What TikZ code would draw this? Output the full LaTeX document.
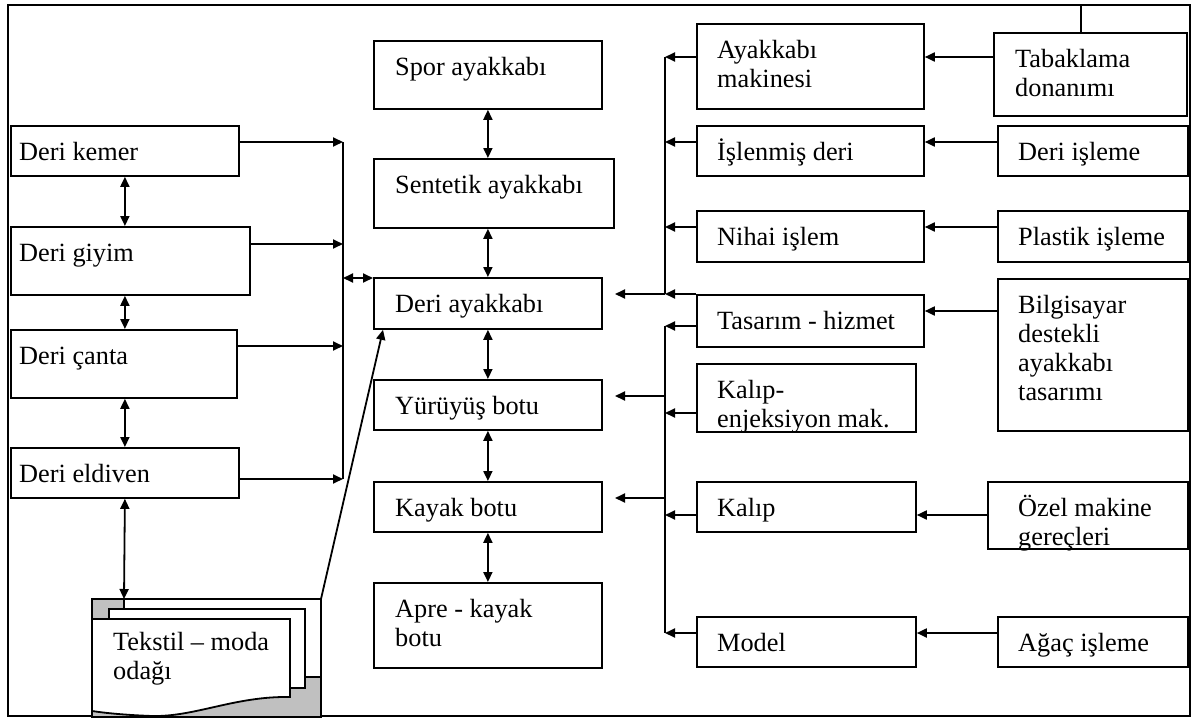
\documentclass[tikz,border=0pt]{standalone}
\usepackage{fontspec}
\setmainfont{Liberation Serif}
\usetikzlibrary{arrows.meta}
\definecolor{docgray}{HTML}{C0C0C0}
\newcommand\mybox[7]{%
  \node[bx, minimum width=#4pt, minimum height=#5pt, anchor=north west] (#1) at (#2,#3) {};
  \node[tx, anchor=base west] (#1t) at ([shift={(#6,35)}]#1.north west) {#7};}
\newcommand\twol[2]{\vtop{\baselineskip=29pt\hbox{#1}\hbox{#2}}}
\begin{document}
\begin{tikzpicture}[x=1pt,y=-1pt,
  bx/.style={draw, line width=1.8pt, inner sep=0pt, fill=white},
  tx/.style={inner sep=0pt, font=\fontsize{26.3}{29}\selectfont},
  ln/.style={line width=1.8pt},
  arr/.style={ln, -{Triangle[length=10pt,width=9pt]}},
  darr/.style={ln, {Triangle[length=10pt,width=9pt]}-{Triangle[length=10pt,width=9pt]}}]
\useasboundingbox (0,0) rectangle (1197,720);
\draw[ln] (8,5) rectangle (1190,716);
% left column
\mybox{kemer}{10}{125}{228}{50}{9}{Deri kemer}
\mybox{giyim}{10}{226}{239}{68}{9}{Deri giyim}
\mybox{canta}{10}{329}{226}{68}{9}{Deri çanta}
\mybox{eldiven}{10}{447}{228}{50}{9}{Deri eldiven}
% centre column
\mybox{spor}{373}{40}{228}{68}{22}{Spor ayakkabı}
\mybox{sentetik}{373}{158}{240}{69}{22}{Sentetik ayakkabı}
\mybox{deri}{373}{277}{228}{51}{22}{Deri ayakkabı}
\mybox{yuruyus}{373}{379}{228}{50}{22}{Yürüyüş botu}
\mybox{kayak}{373}{481}{228}{50}{22}{Kayak botu}
\mybox{apre}{373}{582}{228}{85}{22}{\twol{Apre - kayak}{botu}}
% middle-right column
\mybox{makine}{696}{23}{227}{85}{21}{\twol{Ayakkabı}{makinesi}}
\mybox{islenmis}{696}{125}{227}{50}{21}{İşlenmiş deri}
\mybox{nihai}{696}{210}{227}{51}{21}{Nihai işlem}
\mybox{tasarim}{696}{294}{227}{52}{21}{Tasarım - hizmet}
\mybox{enj}{696}{363}{219}{68}{21}{\twol{Kalıp-}{enjeksiyon mak.}}
\mybox{kalip}{696}{481}{219}{50}{21}{Kalıp}
\mybox{model}{696}{616}{219}{50}{21}{Model}
% far right column
\mybox{tabak}{993}{32}{193}{83}{22}{\twol{Tabaklama}{donanımı}}
\mybox{deriisl}{997}{125}{190}{50}{21}{Deri işleme}
\mybox{plastik}{997}{210}{190}{51}{21}{Plastik işleme}
\mybox{bilgi}{997}{278}{190}{152}{21}{\vtop{\baselineskip=29pt\hbox{Bilgisayar}\hbox{destekli}\hbox{ayakkabı}\hbox{tasarımı}}}
\mybox{ozel}{987}{481}{200}{67}{31}{\twol{Özel makine}{gereçleri}}
\mybox{agac}{997}{616}{190}{50}{21}{Ağaç işleme}
% multi-document shape
\filldraw[ln, fill=docgray] (92,599) rectangle (321,717);
\filldraw[ln, fill=white] (124,599) rectangle (321,677);
\filldraw[ln, fill=white] (109,609) rectangle (305,688);
\filldraw[ln, fill=white] (92,619) -- (290,619) -- (290,697)
  .. controls (235,696) and (195,717) .. (152,716)
  .. controls (125,715) and (105,713) .. (92,711) -- cycle;
\node[tx, anchor=base west] (doct) at (113,650) {\twol{Tekstil – moda}{odağı}};
\coordinate (docA) at (124,599);
\coordinate (docB) at (321,599);
% coordinates
\coordinate (L1) at (343,142);
\coordinate (L2) at (343,244);
\coordinate (L3) at (343,346);
\coordinate (L4) at (343,479);
\coordinate (L0) at (343,278);
\coordinate (ub1) at (665,57);
\coordinate (ub2) at (665,142);
\coordinate (ub3) at (665,227);
\coordinate (ub4) at (665,294);
\coordinate (lb1) at (665,326);
\coordinate (lb2) at (665,413);
\coordinate (lb3) at (665,515);
\coordinate (lb4) at (665,633);
\coordinate (ly) at (665,396);
\coordinate (lk) at (665,498);
\coordinate (da) at (615,294);
\coordinate (ya) at (615,396);
\coordinate (ka) at (615,498);
\coordinate (bg) at (0,311);
\coordinate (ft) at (1081,5);
% left connectors
\draw[ln] (L1) -- (L4);
\draw[arr] (L1 -| kemer.east) -- (L1);
\draw[arr] (L2 -| giyim.east) -- (L2);
\draw[arr] (L3 -| canta.east) -- (L3);
\draw[arr] (L4 -| eldiven.east) -- (L4);
\draw[darr] (L0) -- (L0 -| deri.west);
\draw[darr] (kemer.south) -- (kemer.south |- giyim.north);
\draw[darr] (kemer.south |- giyim.south) -- (kemer.south |- canta.north);
\draw[darr] (kemer.south |- canta.south) -- (kemer.south |- eldiven.north);
\draw[darr] (eldiven.south) -- (docA);
\draw[arr] (docB) -- ([xshift=10pt]deri.south west);
% centre connectors
\draw[darr] (spor.south) -- (spor.south |- sentetik.north);
\draw[darr] (spor.south |- sentetik.south) -- (spor.south |- deri.north);
\draw[darr] (spor.south |- deri.south) -- (spor.south |- yuruyus.north);
\draw[darr] (spor.south |- yuruyus.south) -- (spor.south |- kayak.north);
\draw[darr] (spor.south |- kayak.south) -- (spor.south |- apre.north);
% right buses
\draw[ln] (ub1) -- (ub4);
\draw[ln] (lb1) -- (lb4);
\draw[arr] (makine.west |- ub1) -- (ub1);
\draw[arr] (ub2 -| islenmis.west) -- (ub2);
\draw[arr] (ub3 -| nihai.west) -- (ub3);
\draw[arr] (tasarim.north west) -- (ub4);
\draw[arr] (ub4) -- (da);
\draw[arr] (lb1 -| tasarim.west) -- (lb1);
\draw[arr] (lb2 -| enj.west) -- (lb2);
\draw[arr] (lb3 -| kalip.west) -- (lb3);
\draw[arr] (lb4 -| model.west) -- (lb4);
\draw[arr] (ly) -- (ya);
\draw[arr] (lk) -- (ka);
% far right connectors
\draw[arr] (tabak.west |- ub1) -- (ub1 -| makine.east);
\draw[arr] (ub2 -| deriisl.west) -- (ub2 -| islenmis.east);
\draw[arr] (ub3 -| plastik.west) -- (ub3 -| nihai.east);
\draw[arr] (bg -| bilgi.west) -- (bg -| tasarim.east);
\draw[arr] (lb3 -| ozel.west) -- (lb3 -| kalip.east);
\draw[arr] (lb4 -| agac.west) -- (lb4 -| model.east);
\draw[ln] (ft |- tabak.north) -- (ft);
\end{tikzpicture}
\end{document}
